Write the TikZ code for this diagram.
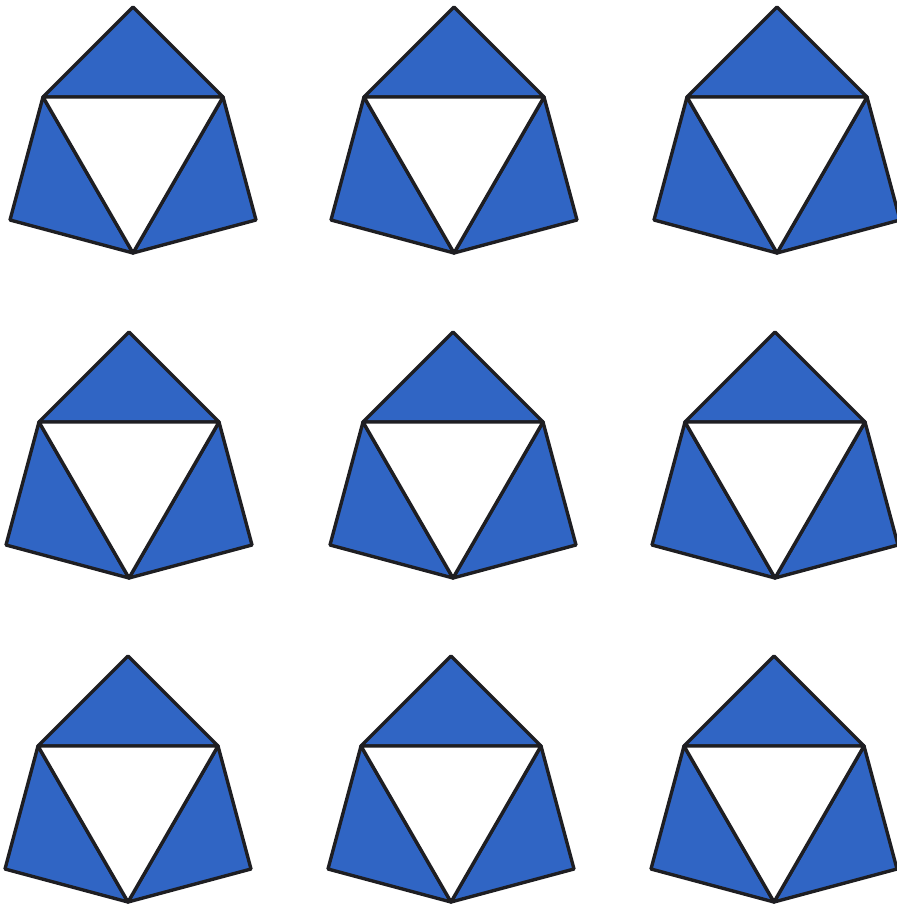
\documentclass[tikz,border=0pt]{standalone}
\definecolor{tileblue}{RGB}{48,101,196}
\definecolor{edgegrey}{RGB}{30,30,34}
\begin{document}
\begin{tikzpicture}[
            x=0.025cm,
            y=-0.025cm,
            flap/.style={
                fill=tileblue,
                draw=edgegrey,
                line width=2.4pt,
                line join=round
            },
            hole/.style={
                fill=white,
                draw=edgegrey,
                line width=2.4pt,
                line join=round
            }
        ]
            \useasboundingbox (0,0) rectangle (896,907);

            \foreach \cx/\cy in {133/149, 454/149, 777/149,
                                 129/474, 453/474, 775/474,
                                 128/798, 451/798, 774/798} {
                \begin{scope}[shift={(\cx,\cy)}]
                    \coordinate (tl) at (-90,-52);
                    \coordinate (tr) at (90,-52);
                    \coordinate (b) at (0,104);
                    \coordinate (t) at (0,-142);
                    \coordinate (l) at (-123,71);
                    \coordinate (r) at (123,71);

                    \draw[flap] (tl)--(t)--(tr)--cycle;
                    \draw[flap] (tl)--(l)--(b)--cycle;
                    \draw[flap] (tr)--(r)--(b)--cycle;
                    \draw[hole] (tl)--(tr)--(b)--cycle;
                \end{scope}
            }
        \end{tikzpicture}
\end{document}
